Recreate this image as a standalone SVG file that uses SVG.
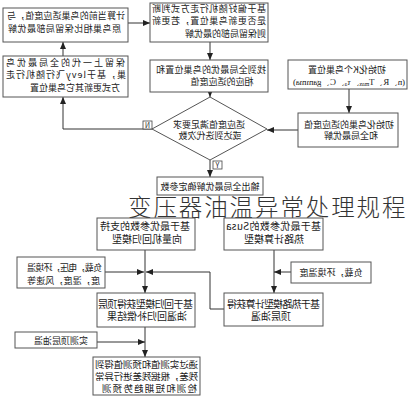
<svg xmlns="http://www.w3.org/2000/svg" width="412" height="400" viewBox="0 0 412 400">
<defs>
<style>
.box{fill:#fff;stroke:#555;stroke-width:1}
.t{font-family:"Noto Sans CJK SC","Noto Sans",sans-serif;font-size:9px;fill:#1a1a1a}
.t10{font-size:10px}
.t95{font-size:9.5px}
.mid{text-anchor:middle}
.c{stroke:#333;stroke-width:1;fill:none}
.lab{fill:#fff;stroke:#444;stroke-width:0.8}
.title{font-family:"Noto Sans CJK SC",sans-serif;font-size:23.5px;font-weight:300;fill:#333;letter-spacing:1.9px}
</style>
<marker id="ah" markerUnits="userSpaceOnUse" markerWidth="7" markerHeight="6" refX="7" refY="3" orient="auto">
<path d="M0,0 L7,3 L0,6 Z" fill="#222"/>
</marker>
</defs>
<rect width="412" height="400" fill="#fff"/>

<g id="connectors" class="c" marker-end="url(#ah)">
<path d="M63,56 V42"/>
<path d="M152,129 H63 V97"/>
<path d="M128,23 H150"/>
<path d="M210,42 V60"/>
<path d="M210,92 V97"/>
<path d="M349,89 V113"/>
<path d="M298,130 H267"/>
<path d="M210,160 V177"/>
<path d="M145,250 V293"/>
<path d="M105,272 H144"/>
<path d="M224,309 H210 V272 H146"/>
<path d="M274,250 V293"/>
<path d="M291,272 H274"/>
<path d="M145,327 V357"/>
<path d="M97,342 H145"/>
</g>

<g id="n1"><rect class="box" x="3" y="8" width="125" height="34"/>
<g transform="scale(-1,1)" class="t">
<text x="-125" y="19" textLength="118">计算当前的鸟巢适应度值，与</text>
<text x="-121" y="32" textLength="113">原鸟巢相比保留局部最优解</text></g></g>

<g id="n2"><rect class="box" x="3" y="56" width="125" height="41"/>
<g transform="scale(-1,1)" class="t">
<text x="-125" y="65.5" textLength="119">保留上一代的全局最优鸟</text>
<text x="-126" y="78" textLength="120">巢，基于levy飞行随机行走</text>
<text x="-120" y="90.5">方式更新其它鸟巢位置</text></g></g>

<g id="n3"><rect class="box" x="150" y="3" width="118" height="39"/>
<g transform="scale(-1,1)" class="t">
<text x="-266" y="11.5" textLength="114">基于偏好随机行走方式判断</text>
<text x="-266" y="24" textLength="114">是否更新鸟巢位置，若更新</text>
<text x="-266" y="36.5">则保留局部的最优解</text></g></g>

<g id="n4"><rect class="box" x="150" y="60" width="118" height="32"/>
<g transform="scale(-1,1)" class="t">
<text x="-266" y="72.5" textLength="110">找到全局最优的鸟巢位置和</text>
<text class="mid" x="-222" y="84.5">相应的适应度值</text></g></g>

<g id="n5"><rect class="box" x="288" y="60" width="119" height="29"/>
<g transform="scale(-1,1)" class="t">
<text class="mid" x="-347" y="72.5">初始化K个鸟巢位置</text>
<text x="-405" y="84.5" textLength="112" style="font-family:'Liberation Serif',serif">(n、R、T<tspan font-size="6" dy="1.5">max</tspan><tspan dy="-1.5">、τ</tspan><tspan font-size="6" dy="1.5">a</tspan><tspan dy="-1.5">、C、gamma)</tspan></text></g></g>

<g id="n6"><rect class="box" x="298" y="113" width="100" height="34"/>
<g transform="scale(-1,1)" class="t">
<text class="mid" x="-349" y="127.5">初始化鸟巢的适应度值</text>
<text class="mid" x="-351" y="139">和全局最优解</text></g></g>

<g id="n7"><polygon class="box" points="210,97 267,129 210,160 152,129"/>
<g transform="scale(-1,1)" class="t">
<text class="mid" x="-209" y="127.5">适应度值满足要求</text>
<text class="mid" x="-210" y="139">或达到迭代次数</text></g>
<rect class="lab" x="143" y="121" width="9" height="8"/>
<text transform="scale(-1,1)" class="t mid" x="-147.5" y="128" style="font-size:7px">N</text>
<rect class="lab" x="213" y="161" width="9" height="8"/>
<text transform="scale(-1,1)" class="t mid" x="-217.5" y="168" style="font-size:7px">Y</text></g>

<g id="n8"><rect class="box" x="157" y="177" width="106" height="18"/>
<text transform="scale(-1,1)" class="t mid" x="-210" y="189.5">输出全局最优解确定参数</text></g>

<text class="title" x="128" y="215.5">变压器油温异常处理规程</text>

<g id="n9"><rect class="box" x="97" y="218" width="98" height="32"/>
<g transform="scale(-1,1)" class="t t10">
<text class="mid" x="-145" y="229.5">基于最优参数的支持</text>
<text class="mid" x="-147" y="242.5">向量机回归模型</text></g></g>

<g id="n10"><rect class="box" x="224" y="218" width="99" height="32"/>
<g transform="scale(-1,1)" class="t t10">
<text x="-321" y="229.5" textLength="95">基于最优参数的Susa</text>
<text class="mid" x="-274" y="242.5">热路计算模型</text></g></g>

<g id="n11"><rect class="box" x="17" y="257" width="88" height="31"/>
<g transform="scale(-1,1)" class="t">
<text x="-102" y="271" textLength="75">负载，电压，环境温</text>
<text x="-100" y="284" textLength="73">度，湿度，风速等</text></g></g>

<g id="n12"><rect class="box" x="291" y="262" width="80" height="21"/>
<text transform="scale(-1,1)" class="t mid" x="-331" y="276">负载，环境温度</text></g>

<g id="n13"><rect class="box" x="97" y="293" width="98" height="34"/>
<g transform="scale(-1,1)" class="t t10">
<text x="-193" y="308" textLength="95">基于回归模型获得顶层</text>
<text class="mid" x="-147" y="320">油温回归补偿结果</text></g></g>

<g id="n14"><rect class="box" x="224" y="293" width="99" height="33"/>
<g transform="scale(-1,1)" class="t t10">
<text x="-320" y="308" textLength="93">基于热路模型计算获得</text>
<text class="mid" x="-271" y="320">顶层油温</text></g></g>

<g id="n15"><rect class="box" x="15" y="332" width="82" height="16"/>
<text transform="scale(-1,1)" class="t mid" x="-61" y="344">实测顶层油温</text></g>

<g id="n16"><rect class="box" x="93" y="357" width="107" height="38"/>
<g transform="scale(-1,1)" class="t t95">
<text x="-198" y="367.5" textLength="103">通过实测值和预测值得到</text>
<text x="-198" y="379.5" textLength="103">残差，根据残差进行异常</text>
<text x="-197" y="391.5" textLength="95">检测和短期趋势预测</text></g></g>
</svg>
